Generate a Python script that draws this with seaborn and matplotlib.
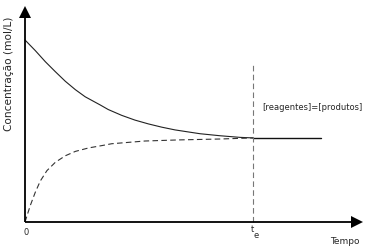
import matplotlib
matplotlib.use("Agg")
import matplotlib.pyplot as plt
import seaborn as sns
import pandas as pd

sns.set_theme(style="white")
plt.rcParams['font.family'] = ['DejaVu Sans']

# Reactant concentration (solid, decaying)
reag_t = [0.0, 0.45, 0.89, 1.33, 1.77, 2.21, 2.64, 3.30, 3.65, 4.24, 4.82,
          5.41, 6.00, 6.58, 7.31, 7.68, 8.55, 9.43, 10.0]
reag_c = [1.0, 0.942, 0.881, 0.826, 0.773, 0.727, 0.688, 0.643, 0.618,
          0.586, 0.560, 0.539, 0.521, 0.506, 0.492, 0.485, 0.474, 0.465, 0.462]
# Product concentration (dashed, rising)
prod_t = [0.0, 0.23, 0.45, 0.67, 0.96, 1.33, 1.77, 2.21, 2.79, 3.38, 3.80,
          5.26, 6.74, 8.55, 10.0]
prod_c = [0.0, 0.090, 0.163, 0.225, 0.282, 0.328, 0.364, 0.388, 0.407,
          0.420, 0.430, 0.445, 0.451, 0.456, 0.462]
# Equilibrium plateau
eq_t = [10.0, 13.0]
eq_c = [0.462, 0.462]
t_eq = 10.0

y_label = "Concentração (mol/L)"
x_label = "Tempo"
eq_label = "[reagentes]=[produtos]"

reag = pd.DataFrame({"t": reag_t, "c": reag_c})
prod = pd.DataFrame({"t": prod_t, "c": prod_c})
eq = pd.DataFrame({"t": eq_t, "c": eq_c})

fig = plt.figure(figsize=(3.8, 2.51), dpi=100)
ax = fig.add_axes([0, 0, 1, 1])
ax.set_xlim(-25 / 22.8, 355 / 22.8)
ax.set_ylim(-28 / 182, 223 / 182)
ax.axis("off")

sns.lineplot(data=reag, x="t", y="c", ax=ax, color="#222222", lw=0.8)
sns.lineplot(data=prod, x="t", y="c", ax=ax, color="#333333", lw=0.8,
             linestyle=(0, (5, 3)))
sns.lineplot(data=eq, x="t", y="c", ax=ax, color="#111111", lw=1.0)

# vertical dashed equilibrium marker
ax.plot([t_eq, t_eq], [0, 0.868], color="#777777", lw=0.8, linestyle=(0, (5, 3)))

# axes with arrows
ax.plot([0, 14.6], [0, 0], color="black", lw=1.3, solid_capstyle="butt")
ax.plot([0, 0], [0, 1.15], color="black", lw=1.3, solid_capstyle="butt")
ax.plot([14.55], [0], marker=">", color="black", ms=9, mew=0)
ax.plot([0], [1.155], marker="^", color="black", ms=9, mew=0)

ax.text(0.04, -0.027, "0", fontsize=6, ha="center", va="top")
ax.text(9.98, -0.011, "t", fontsize=6, ha="center", va="top")
ax.text(10.15, -0.046, "e", fontsize=6, ha="center", va="top")
ax.text(14.04, -0.077, x_label, fontsize=6.5, ha="center", va="top")
ax.text(10.39, 0.632, eq_label, fontsize=6, ha="left", va="center")
ax.text(-0.70, 0.819, y_label, fontsize=7.6, rotation=90,
        ha="center", va="center")

fig.savefig("out.png", dpi=100)
